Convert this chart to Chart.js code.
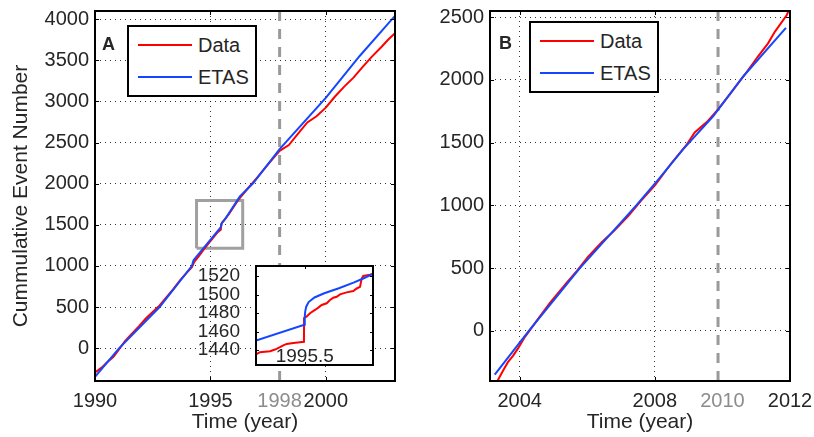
<!DOCTYPE html>
<html>
<head>
<meta charset="utf-8">
<script src="https://cdn.jsdelivr.net/npm/chart.js@4.4.1/dist/chart.umd.min.js"></script>
<style>
  body { margin: 0; background: #fff; font-family: "Liberation Sans", Arial, sans-serif; }
  #wrap { position: relative; width: 814px; height: 437px; overflow: hidden; }
  .pane { position: absolute; }
  .legend { position: absolute; width: 130px; height: 72px; box-sizing: border-box; border: 2px solid #000; background: #fff; }
  .legend .row { position: absolute; left: 0; right: 0; height: 24px; display: flex; align-items: center; }
  .legend .swatch { position: absolute; left: 9px; width: 54px; height: 2px; }
  .legend .txt { position: absolute; left: 69px; font-size: 20px; line-height: 24px; color: #262626; }
</style>
</head>
<body>
<div id="wrap">
  <canvas id="chartA" class="pane" width="407" height="437" style="left:0;top:0"></canvas>
  <canvas id="chartB" class="pane" width="407" height="437" style="left:407px;top:0"></canvas>
  <canvas id="inset" class="pane" width="190" height="116" style="left:190px;top:256px"></canvas>
</div>
<script>
// Panel A, 1990 - 2003
const aDataYears = [1990.0, 1990.3, 1990.55, 1990.8, 1991.0, 1991.3, 1991.6, 1991.9, 1992.2, 1992.5, 1992.8, 1993.1, 1993.4, 1993.7, 1994.0, 1994.2, 1994.3, 1994.5, 1994.7, 1995.0, 1995.3, 1995.45, 1995.48, 1995.8, 1996.2, 1996.6, 1997.0, 1997.4, 1997.8, 1998.0, 1998.4, 1998.8, 1999.2, 1999.6, 2000.0, 2000.4, 2000.8, 2001.2, 2001.6, 2002.0, 2002.4, 2002.7, 2003.0];
const aDataCount = [-295, -235, -165, -105, -30, 85, 175, 265, 360, 440, 520, 620, 720, 830, 925, 985, 1050, 1120, 1195, 1300, 1405, 1440, 1515, 1630, 1800, 1935, 2065, 2200, 2335, 2400, 2470, 2610, 2745, 2820, 2925, 3060, 3180, 3290, 3420, 3545, 3660, 3750, 3830];
const aEtasYears = [1990.0, 1991.05, 1992.8, 1994.2, 1994.27, 1995.33, 1995.45, 1995.5, 1995.62, 1996.27, 1996.84, 1998.0, 2000.0, 2001.47, 2003.0];
const aEtasCount = [-350, 0, 500, 1000, 1070, 1430, 1470, 1525, 1562, 1842, 2002, 2421, 3044, 3553, 4041];
const aXTicks = [1990, 1995, 1998, 2000];
const aYTicks = [0, 500, 1000, 1500, 2000, 2500, 3000, 3500, 4000];
const aGreyTicks = [1998];
const aMarkYear = 1998;
const aZoomYears = [1994.4, 1996.4];
const aZoomCounts = [1215, 1795];

// Panel B, 2003 - 2012
const bDataYears = [2003.3, 2003.5, 2003.65, 2003.8, 2003.95, 2004.15, 2004.5, 2004.9, 2005.38, 2005.7, 2006.02, 2006.42, 2006.8, 2007.21, 2007.6, 2008.0, 2008.5, 2008.93, 2009.18, 2009.57, 2009.87, 2010.2, 2010.66, 2011.05, 2011.35, 2011.55, 2011.9, 2011.95];
const bDataCount = [-420, -320, -250, -200, -140, -50, 80, 225, 380, 480, 590, 705, 800, 915, 1040, 1160, 1340, 1480, 1581, 1673, 1765, 1880, 2042, 2187, 2292, 2384, 2516, 2545];
const bEtasYears = [2003.26, 2004.27, 2005.78, 2007.45, 2008.1, 2008.84, 2009.73, 2010.62, 2011.88];
const bEtasCount = [-350, 0, 500, 1000, 1205, 1449, 1712, 2030, 2415];
const bXTicks = [2004, 2008, 2010, 2012];
const bYTicks = [0, 500, 1000, 1500, 2000, 2500];
const bGreyTicks = [2010];
const bMarkYear = 2009.87;

// Inset, around 1995.5
const insetDataYears = [1995.45, 1995.4541, 1995.4644, 1995.4695, 1995.4746, 1995.478, 1995.4815, 1995.4883, 1995.4951, 1995.4992, 1995.4993, 1995.502, 1995.5054, 1995.5105, 1995.5139, 1995.5174, 1995.5225, 1995.5259, 1995.5293, 1995.5328, 1995.5362, 1995.543, 1995.5498, 1995.5533, 1995.5567, 1995.5584, 1995.56, 1995.5669, 1995.57];
const insetDataCount = [1435.4, 1437.9, 1438.9, 1440.7, 1443.2, 1445.3, 1446.8, 1447.9, 1448.6, 1449, 1474.7, 1476.4, 1480, 1483.5, 1486, 1488.9, 1490.7, 1494.2, 1496.7, 1497.8, 1500.3, 1502.5, 1503.9, 1506.7, 1508.4, 1517.4, 1520.2, 1521.7, 1522.6];
const insetEtasYears = [1995.45, 1995.4995, 1995.5, 1995.5005, 1995.5015, 1995.504, 1995.51, 1995.52, 1995.535, 1995.55, 1995.56, 1995.57];
const insetEtasCount = [1450.4, 1467.5, 1476, 1482, 1487, 1492, 1497, 1501.5, 1507, 1513, 1517.5, 1522.5];
const insetXTicks = [1995.5];
const insetYTicks = [1440, 1460, 1480, 1500, 1520];

const FONT = "'Liberation Sans', Arial, sans-serif";
const INK = '#262626';
const GREY = '#8c8c8c';
const RED = '#ff0000';
const BLUE = '#1546ff';

const pts = (xs, ys) => xs.map((x, i) => ({ x: x, y: ys[i] }));
const useTicks = values => scale => { scale.ticks = values.map(v => ({ value: v })); };
// fixed axis size, no extra room for half labels at the ends
const fixSize = (w, h) => s => {
  if (w !== null) s.width = w;
  if (h !== null) s.height = h;
  s.paddingTop = 0; s.paddingBottom = 0; s.paddingLeft = 0; s.paddingRight = 0;
};

function series(label, xs, ys, color, order) {
  return { label: label, data: pts(xs, ys), borderColor: color, backgroundColor: color,
    borderWidth: 2, pointRadius: 0, tension: 0, order: order, inLegend: true };
}

function markLine(year, lo, hi) {
  return { data: pts([year, year], [lo, hi]), borderColor: '#9a9a9a', borderWidth: 3,
    borderDash: [10, 8], pointRadius: 0, order: 3 };
}

// box round the plot area, inward tick marks, panel letter, white fill
const frame = {
  id: 'frame',
  beforeDraw(chart, args, o) {
    if (!o.fill) return;
    const a = chart.chartArea, ctx = chart.ctx;
    ctx.save();
    ctx.fillStyle = '#fff';
    ctx.fillRect(a.left, a.top, a.right - a.left, a.bottom - a.top);
    ctx.restore();
  },
  afterDatasetsDraw(chart, args, o) {
    const a = chart.chartArea, ctx = chart.ctx;
    const x = chart.scales.x, y = chart.scales.y;
    const skip = o.skip || [];
    ctx.save();
    ctx.strokeStyle = '#000';
    ctx.lineWidth = 1;
    ctx.beginPath();
    x.ticks.forEach(t => {
      if (skip.includes(t.value)) return;
      const px = Math.round(x.getPixelForValue(t.value)) + 0.5;
      ctx.moveTo(px, a.bottom); ctx.lineTo(px, a.bottom - o.len);
      ctx.moveTo(px, a.top); ctx.lineTo(px, a.top + o.len);
    });
    y.ticks.forEach(t => {
      const py = Math.round(y.getPixelForValue(t.value)) + 0.5;
      ctx.moveTo(a.left, py); ctx.lineTo(a.left + o.len, py);
      ctx.moveTo(a.right, py); ctx.lineTo(a.right - o.len, py);
    });
    ctx.stroke();
    ctx.lineWidth = 2;
    ctx.strokeRect(a.left, a.top, a.right - a.left, a.bottom - a.top);
    ctx.fillStyle = INK;
    if (o.letter) {
      ctx.font = 'bold 18px ' + FONT;
      ctx.textBaseline = 'middle';
      ctx.fillText(o.letter, a.left + o.letterX, a.top + o.letterY);
    }
    // x tick labels written inside the plot (inset)
    if (o.innerX) {
      ctx.font = o.innerX.size + 'px ' + FONT;
      ctx.textAlign = 'center';
      ctx.textBaseline = 'middle';
      x.ticks.forEach(t => {
        ctx.fillText(String(t.value), x.getPixelForValue(t.value), a.bottom - o.innerX.lift);
      });
    }
    ctx.restore();
  }
};
Chart.register(frame);

function panelOptions(p) {
  return {
    responsive: false,
    animation: false,
    devicePixelRatio: 1,
    layout: { padding: p.padding },
    plugins: {
      legend: { display: false },
      tooltip: { enabled: false },
      frame: { len: 4, skip: p.grey, letter: p.letter, letterX: p.letterX, letterY: p.letterY }
    },
    scales: {
      x: {
        type: 'linear', min: p.xMin, max: p.xMax,
        afterBuildTicks: useTicks(p.xTicks),
        afterFit: fixSize(null, 56),
        ticks: {
          autoSkip: false, maxRotation: 0, padding: 8,
          font: { family: FONT, size: 20 },
          color: c => p.grey.includes(c.tick.value) ? GREY : INK,
          callback: v => String(v)
        },
        grid: {
          drawTicks: false, lineWidth: 1,
          color: c => (c.tick && p.grey.includes(c.tick.value)) ? 'rgba(0,0,0,0)' : 'rgba(0,0,0,0.8)'
        },
        border: { display: false, dash: [1, 4] },
        title: { display: true, text: 'Time (year)', color: INK, font: { family: FONT, size: 21 }, padding: { top: 0, bottom: 2 } }
      },
      y: {
        type: 'linear', min: p.yMin, max: p.yMax,
        afterBuildTicks: useTicks(p.yTicks),
        afterFit: fixSize(p.yWidth, null),
        ticks: { autoSkip: false, padding: 6, color: INK, font: { family: FONT, size: 20 }, callback: v => String(v) },
        grid: { drawTicks: false, lineWidth: 1, color: 'rgba(0,0,0,0.8)' },
        border: { display: false, dash: [1, 4] },
        title: { display: !!p.yTitle, text: p.yTitle, color: INK, font: { family: FONT, size: 21 }, padding: { top: 9, bottom: 0 } }
      }
    }
  };
}

function addLegend(chart, canvasLeft, dx, dy) {
  const a = chart.chartArea;
  const box = document.createElement('div');
  box.className = 'legend';
  box.style.left = (canvasLeft + a.left + dx) + 'px';
  box.style.top = (a.top + dy) + 'px';
  chart.data.datasets.filter(d => d.inLegend).forEach((d, i) => {
    const row = document.createElement('div');
    row.className = 'row';
    row.style.top = (6 + i * 32.4) + 'px';
    const sw = document.createElement('div');
    sw.className = 'swatch';
    sw.style.background = d.borderColor;
    const t = document.createElement('div');
    t.className = 'txt';
    t.textContent = d.label;
    row.appendChild(sw);
    row.appendChild(t);
    box.appendChild(row);
  });
  document.getElementById('wrap').appendChild(box);
}

const chartA = new Chart(document.getElementById('chartA'), {
  type: 'line',
  data: {
    datasets: [
      series('Data', aDataYears, aDataCount, RED, 2),
      series('ETAS', aEtasYears, aEtasCount, BLUE, 1),
      markLine(aMarkYear, -400, 4100),
      { data: pts([aZoomYears[0], aZoomYears[1], aZoomYears[1], aZoomYears[0], aZoomYears[0]],
                  [aZoomCounts[0], aZoomCounts[0], aZoomCounts[1], aZoomCounts[1], aZoomCounts[0]]),
        borderColor: '#a0a0a0', borderWidth: 3, pointRadius: 0, order: 3 }
    ]
  },
  options: panelOptions({
    padding: { left: 0, right: 12, top: 11, bottom: 0 },
    xMin: 1990, xMax: 2003, xTicks: aXTicks, grey: aGreyTicks,
    yMin: -400, yMax: 4100, yTicks: aYTicks, yWidth: 95,
    yTitle: 'Cummulative Event Number', letter: 'A', letterX: 7, letterY: 34
  })
});

const chartB = new Chart(document.getElementById('chartB'), {
  type: 'line',
  data: {
    datasets: [
      series('Data', bDataYears, bDataCount, RED, 2),
      series('ETAS', bEtasYears, bEtasCount, BLUE, 1),
      markLine(bMarkYear, -400, 2550)
    ]
  },
  options: panelOptions({
    padding: { left: 0, right: 24, top: 11, bottom: 0 },
    xMin: 2003.12, xMax: 2012, xTicks: bXTicks, grey: bGreyTicks,
    yMin: -400, yMax: 2550, yTicks: bYTicks, yWidth: 83,
    yTitle: '', letter: 'B', letterX: 9, letterY: 33
  })
});

new Chart(document.getElementById('inset'), {
  type: 'line',
  data: {
    datasets: [
      series('Data', insetDataYears, insetDataCount, RED, 2),
      series('ETAS', insetEtasYears, insetEtasCount, BLUE, 1)
    ]
  },
  options: {
    responsive: false,
    animation: false,
    devicePixelRatio: 1,
    layout: { padding: { left: 0, right: 7, top: 10, bottom: 7 } },
    plugins: {
      legend: { display: false }, tooltip: { enabled: false },
      frame: { fill: true, len: 3, innerX: { size: 19, lift: 8.5 } }
    },
    scales: {
      x: {
        type: 'linear', min: 1995.45, max: 1995.57,
        afterBuildTicks: useTicks(insetXTicks),
        afterFit: fixSize(null, 0),
        ticks: { display: false },
        grid: { display: false },
        border: { display: false }
      },
      y: {
        type: 'linear', min: 1424, max: 1531,
        afterBuildTicks: useTicks(insetYTicks),
        afterFit: fixSize(66, null),
        ticks: { autoSkip: false, padding: 8, color: INK, font: { family: FONT, size: 19 }, callback: v => String(v) },
        grid: { display: false },
        border: { display: false }
      }
    }
  }
});

addLegend(chartA, 0, 32, 14);
addLegend(chartB, 407, 39, 10);
</script>
</body>
</html>
